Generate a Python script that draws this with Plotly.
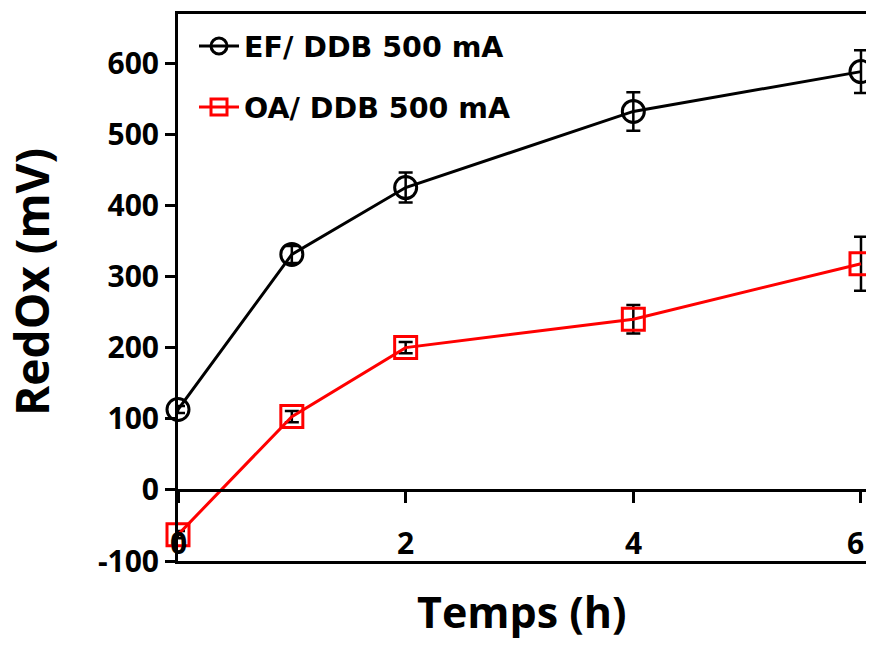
import plotly.graph_objects as go

# Data
times = [0, 1, 2, 4, 6]
ef_values = [113, 331, 425, 532, 588]
ef_errors = [5, 12, 21, 27, 30]
oa_values = [-63, 103, 200, 240, 318]
oa_errors = [5, 8, 8, 20, 38]
x_ticks = [0, 2, 4, 6]
y_ticks = [-100, 0, 100, 200, 300, 400, 500, 600]

# page has an 8px body margin -> figure is offset by 8px
W, H = 858, 632
ML, MR, MT, MB = 170, 0, 6, 79
PW, PH = W - ML - MR, H - MT - MB
y_range = [-100, 669]
x_range = [0, 6.044]

FONT = "Open Sans"
LFONT = "DejaVu Sans"

fig = go.Figure()

fig.add_trace(go.Scatter(
    x=times, y=ef_values, name="EF/ DDB 500 mA", mode="lines+markers",
    line=dict(color="black", width=3),
    marker=dict(symbol="circle-open", size=22, color="black", line=dict(width=3, color="black")),
    error_y=dict(type="data", array=ef_errors, visible=True, color="black", thickness=2.5, width=7),
    legend="legend", cliponaxis=False,
))
fig.add_trace(go.Scatter(
    x=times, y=oa_values, name="OA/ DDB 500 mA", mode="lines+markers",
    line=dict(color="#ff0000", width=3),
    marker=dict(symbol="square-open", size=22, color="#ff0000", line=dict(width=3, color="#ff0000")),
    error_y=dict(type="data", array=oa_errors, visible=True, color="black", thickness=2.5, width=7),
    legend="legend2", cliponaxis=False,
))

zero_pos = (0 - y_range[0]) / (y_range[1] - y_range[0])

annotations = []
for v in x_ticks:
    annotations.append(dict(
        x=v, y=y_range[0], xref="x", yref="y", text=str(v), showarrow=False,
        xanchor="center", yanchor="bottom", yshift=-4,
        xshift=-5 if v == x_ticks[-1] else 0,   # keep the last label inside the page edge
        font=dict(family=FONT, size=30, color="black", weight="bold"),
    ))
# y-axis title
annotations.append(dict(
    x=0, y=(561 - 8 - 268 - MT) / PH, xref="paper", yref="paper",
    text="RedOx (mV)", showarrow=False, textangle=-90,
    xanchor="center", yanchor="middle", xshift=(31 - 8) - ML,
    font=dict(family=FONT, size=46, color="black", weight="bold"),
))
# x-axis title
annotations.append(dict(
    x=(522 - 8 - ML) / PW, y=0, xref="paper", yref="paper",
    text="Temps (h)", showarrow=False,
    xanchor="center", yanchor="top", yshift=-19,
    font=dict(family=FONT, size=43, color="black", weight="bold"),
))

fig.update_layout(
    width=W, height=H,
    margin=dict(l=ML, r=MR, t=MT, b=MB),
    paper_bgcolor="white", plot_bgcolor="white",
    font=dict(family=FONT, color="black", weight="bold"),
    showlegend=True,
    annotations=annotations,
    xaxis=dict(
        range=x_range, tickvals=x_ticks, showticklabels=False,
        showgrid=False, zeroline=False,
        showline=True, linecolor="black", linewidth=3, mirror=True,
        ticks="",
    ),
    xaxis2=dict(
        range=x_range, tickvals=x_ticks, overlaying="x", anchor="free", position=zero_pos,
        side="bottom", showgrid=False, zeroline=False, showticklabels=False,
        showline=True, linecolor="black", linewidth=3,
        ticks="outside", ticklen=11, tickwidth=3, tickcolor="black",
    ),
    yaxis=dict(
        range=y_range, tickvals=y_ticks, ticktext=[str(v) for v in y_ticks],
        showgrid=False, zeroline=False,
        showline=True, linecolor="black", linewidth=3,
        ticks="outside", ticklen=10, tickwidth=3, tickcolor="black",
        tickfont=dict(family=FONT, size=30, color="black", weight="bold"),
    ),
    legend=dict(
        x=16 / PW, y=1 - (21 - 8 - MT) / PH, xanchor="left", yanchor="top",
        bgcolor="rgba(0,0,0,0)", itemwidth=40,
        font=dict(family=LFONT, size=28.5, color="black", weight="bold"),
    ),
    legend2=dict(
        x=16 / PW, y=1 - (82 - 8 - MT) / PH, xanchor="left", yanchor="top",
        bgcolor="rgba(0,0,0,0)", itemwidth=40,
        font=dict(family=LFONT, size=28.5, color="black", weight="bold"),
    ),
)

# invisible trace to activate xaxis2 (zero line with ticks)
fig.add_trace(go.Scatter(x=[x_range[0]], y=[0], xaxis="x2", mode="markers",
                         marker=dict(opacity=0), showlegend=False, hoverinfo="skip"))

fig.write_html("out.html")
